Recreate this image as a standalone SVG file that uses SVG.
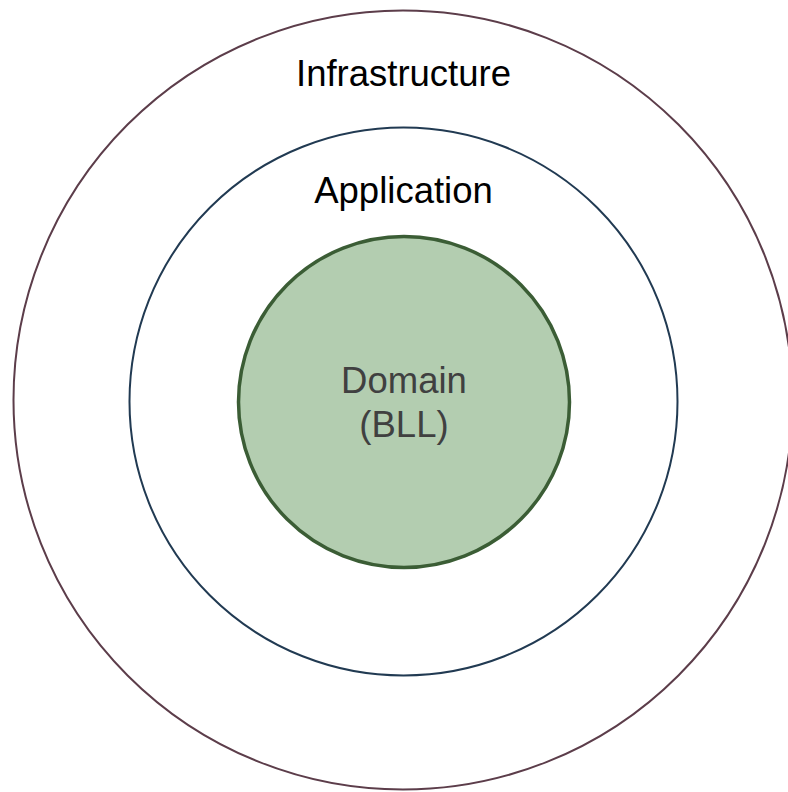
<svg xmlns="http://www.w3.org/2000/svg" width="788" height="792" viewBox="0 0 788 792">
<style>
.lbl{font-family:"Liberation Sans",Arial,sans-serif;font-size:36.5px;text-anchor:middle}
</style>
<rect width="788" height="792" fill="#ffffff"/>
<g id="infrastructure">
<circle cx="403" cy="400" r="389.5" fill="none" stroke="#5c3d4a" stroke-width="2"/>
<text class="lbl" x="403.5" y="86" fill="#000000">Infrastructure</text>
</g>
<g id="application">
<circle cx="403.5" cy="401.5" r="274" fill="none" stroke="#213a52" stroke-width="2"/>
<text class="lbl" x="403.5" y="202.5" fill="#000000">Application</text>
</g>
<g id="domain">
<circle cx="404" cy="402" r="165.5" fill="#b3cdb0" stroke="#3b5d35" stroke-width="3.5"/>
<text class="lbl" x="404" y="393" fill="#404040">Domain</text>
<text class="lbl" x="404" y="437" fill="#404040">(BLL)</text>
</g>
<g id="connectors"></g>
</svg>
